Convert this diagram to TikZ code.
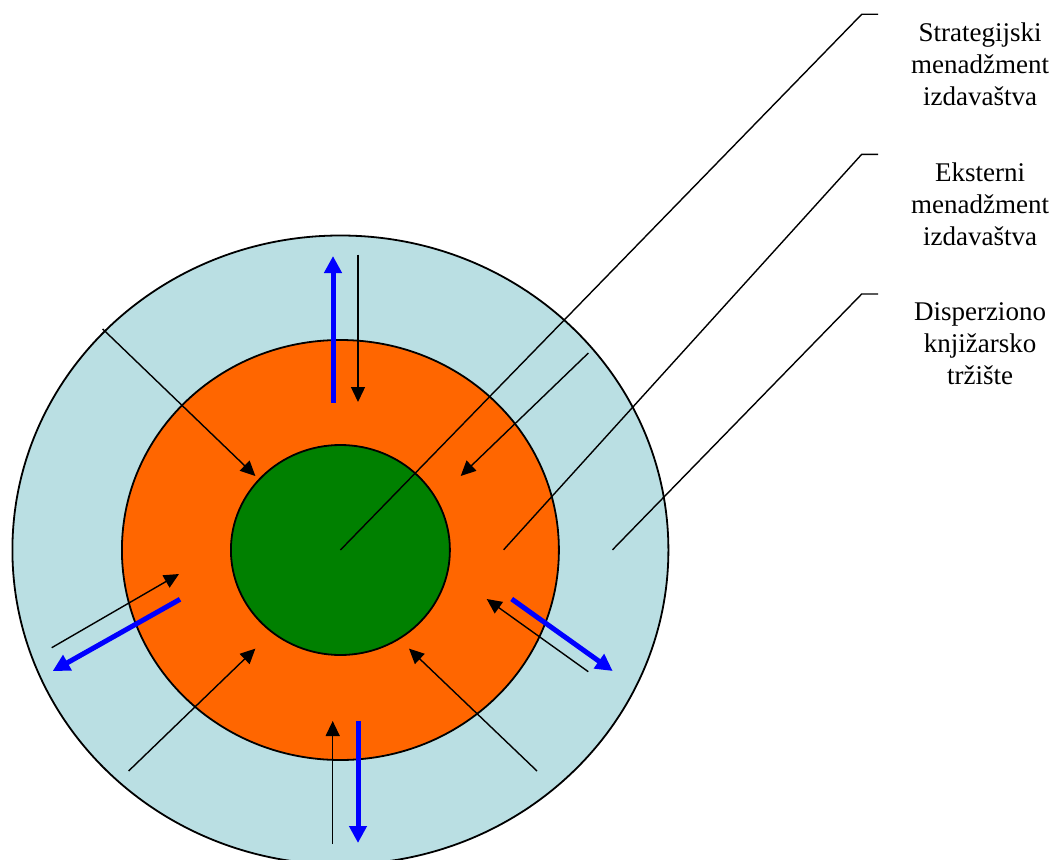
\documentclass[tikz,border=0pt]{standalone}
\usepackage{fontspec}
\setmainfont{Liberation Serif}
\usetikzlibrary{arrows.meta,shapes.geometric}
\definecolor{outerblue}{RGB}{186,223,227}
\definecolor{midorange}{RGB}{255,102,0}
\definecolor{coregreen}{RGB}{0,128,0}
\definecolor{flowblue}{RGB}{0,0,255}
\begin{document}
\begin{tikzpicture}[x=1pt,y=-1pt,
  ring/.style={ellipse, draw=black, line width=1.8pt, inner sep=0pt},
  thinline/.style={draw=black, line width=1.4pt},
  inarrow/.style={draw=black, line width=1.4pt, -{Triangle[length=15pt,width=14pt]}},
  outarrow/.style={draw=flowblue, line width=5pt, -{Triangle[length=17pt,width=17pt]}},
  lbl/.style={align=center, inner sep=0pt, font=\fontsize{27pt}{32pt}\selectfont}]
\useasboundingbox (0,0) rectangle (1054,859);
% rings
\node[ring, fill=outerblue, minimum width=656pt, minimum height=629pt] (outer) at (340.4,550) {};
\node[ring, fill=midorange, minimum width=437pt, minimum height=420pt] (middle) at (340.4,550) {};
\node[ring, fill=coregreen, minimum width=219pt, minimum height=210pt] (core) at (340.4,550) {};
% labels
\node[lbl] (lab1) at (980,64) {Strategijski\\menadžment\\izdavaštva};
\node[lbl] (lab2) at (980,204) {Eksterni\\menadžment\\izdavaštva};
\node[lbl] (lab3) at (980,344) {Disperziono\\knjižarsko\\tržište};
% leader lines
\coordinate (c1) at (861.7,14.3);  \coordinate (e1) at (878,14.3);
\coordinate (p2) at (503.6,549.8); \coordinate (c2) at (861.7,154.3); \coordinate (e2) at (878,154.3);
\coordinate (p3) at (612.5,549.8); \coordinate (c3) at (861.7,294);   \coordinate (e3) at (878,294);
\draw[thinline] (core.center) -- (c1) -- (e1);
\draw[thinline] (p2) -- (c2) -- (e2);
\draw[thinline] (p3) -- (c3) -- (e3);
% top pair
\coordinate (tb0) at (333,402.5); \coordinate (tb1) at (333,256);
\coordinate (tk0) at (358,254.7); \coordinate (tk1) at (358,402);
\draw[outarrow] (tb0) -- (tb1);
\draw[inarrow] (tk0) -- (tk1);
% bottom pair
\coordinate (bk0) at (332.7,844); \coordinate (bk1) at (332.7,721);
\coordinate (bb0) at (358,721);   \coordinate (bb1) at (358,843);
\draw[inarrow] (bk0) -- (bk1);
\draw[outarrow] (bb0) -- (bb1);
% left pair
\coordinate (lk0) at (51.7,647.7); \coordinate (lk1) at (179,574);
\coordinate (lb0) at (180,599.3);  \coordinate (lb1) at (52.7,671);
\draw[inarrow] (lk0) -- (lk1);
\draw[outarrow] (lb0) -- (lb1);
% right pair
\coordinate (rk0) at (588.3,671.7); \coordinate (rk1) at (486.7,599);
\coordinate (rb0) at (511.7,599);   \coordinate (rb1) at (612.7,671);
\draw[inarrow] (rk0) -- (rk1);
\draw[outarrow] (rb0) -- (rb1);
% diagonal arrows
\coordinate (ul0) at (102.7,329); \coordinate (ul1) at (255.4,476);
\coordinate (ur0) at (588.4,353); \coordinate (ur1) at (460.7,476);
\coordinate (dl0) at (128.6,771); \coordinate (dl1) at (255.4,648.6);
\coordinate (dr0) at (537,771);   \coordinate (dr1) at (409,648.6);
\draw[inarrow] (ul0) -- (ul1);
\draw[inarrow] (ur0) -- (ur1);
\draw[inarrow] (dl0) -- (dl1);
\draw[inarrow] (dr0) -- (dr1);
\end{tikzpicture}
\end{document}
